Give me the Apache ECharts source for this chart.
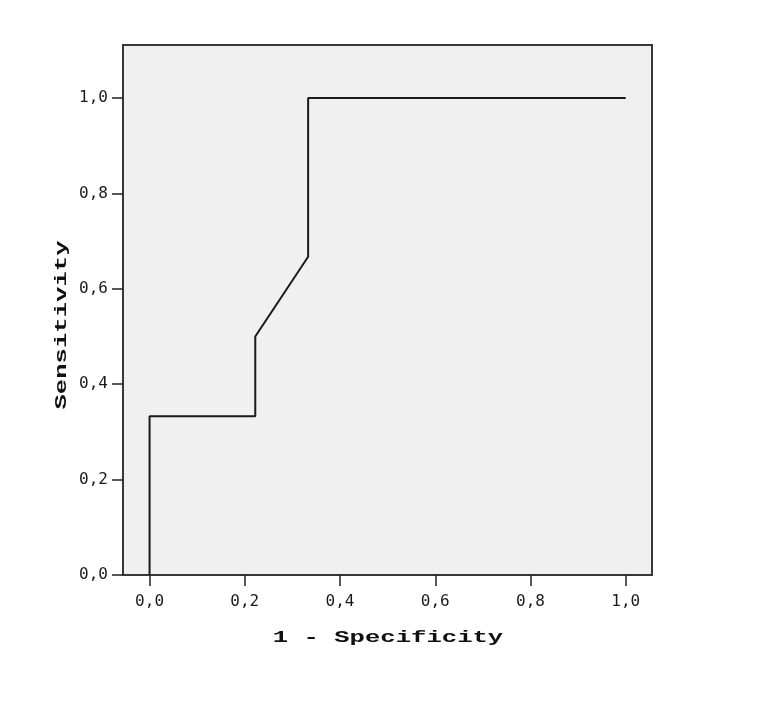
<!DOCTYPE html>
<html>
<head>
<meta charset="utf-8">
<script src="https://cdn.jsdelivr.net/npm/echarts@6/dist/echarts.min.js"></script>
<style>
  html, body { margin: 0; padding: 0; background: #ffffff; }
  #chart { width: 777px; height: 719px; }
</style>
</head>
<body>
<div id="chart"></div>
<script>
// ROC curve points: false positive rate (1 - specificity) and sensitivity
const fpr = [0.0, 0.0, 0.222, 0.222, 0.333, 0.333, 1.0];
const tpr = [0.0, 0.333, 0.333, 0.5, 0.667, 1.0, 1.0];
const tickValues = [0.0, 0.2, 0.4, 0.6, 0.8, 1.0];
const xTitle = '1 - Specificity';
const yTitle = 'Sensitivity';

const fmt = v => Number(v).toFixed(1).replace('.', ',');
const labelFont = { fontFamily: 'DejaVu Sans Mono', fontSize: 16, color: '#1a1a1a' };
const titleFont = { fontFamily: 'Liberation Mono', fontWeight: 'bold', fontSize: 16, fill: '#111' };

const chart = echarts.init(document.getElementById('chart'), null, { renderer: 'canvas' });
chart.setOption({
  animation: false,
  backgroundColor: '#ffffff',
  grid: {
    left: 123, top: 45, right: 125, bottom: 144,
    show: true, backgroundColor: '#f0f0f0', borderColor: '#383838', borderWidth: 2
  },
  xAxis: {
    type: 'value', min: -0.0558, max: 1.0552,
    splitLine: { show: false },
    axisLine: { show: false, onZero: false },
    axisTick: { show: true, length: 11, inside: false, customValues: tickValues,
                lineStyle: { color: '#222', width: 1.5 } },
    axisLabel: { ...labelFont, margin: 19, customValues: tickValues, formatter: fmt }
  },
  yAxis: {
    type: 'value', min: 0, max: 1.111,
    splitLine: { show: false },
    axisLine: { show: false, onZero: false },
    axisTick: { show: true, length: 11, inside: false, customValues: tickValues,
                lineStyle: { color: '#222', width: 1.5 } },
    axisLabel: { ...labelFont, margin: 15, customValues: tickValues, formatter: fmt }
  },
  graphic: [
    {
      type: 'text', x: 388, y: 638, scaleX: 1.6,
      style: { text: xTitle, ...titleFont, align: 'center', verticalAlign: 'middle' }
    },
    {
      type: 'text', x: 62, y: 325, rotation: Math.PI / 2, scaleX: 1.6,
      style: { text: yTitle, ...titleFont, align: 'center', verticalAlign: 'middle' }
    }
  ],
  series: [{
    type: 'line',
    data: fpr.map((x, i) => [x, tpr[i]]),
    symbol: 'none',
    lineStyle: { color: '#1a1a1a', width: 2 },
    z: 3
  }]
});
</script>
</body>
</html>
